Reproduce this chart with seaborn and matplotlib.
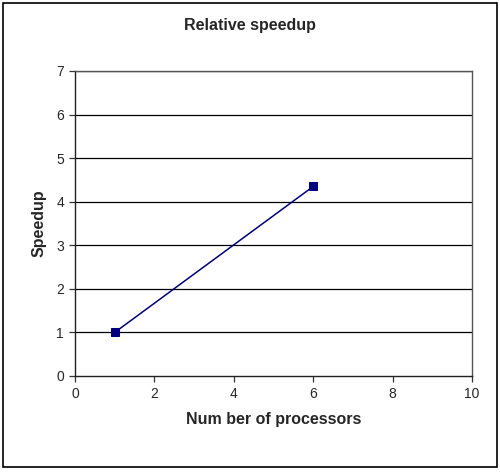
import matplotlib
matplotlib.use("Agg")
import matplotlib.pyplot as plt
import seaborn as sns
import pandas as pd
from matplotlib.patches import Rectangle

processors = [1, 6]
speedup = [1.0, 4.35]
x_ticks = [0, 2, 4, 6, 8, 10]
y_ticks = [0, 1, 2, 3, 4, 5, 6, 7]

sns.set_style("white")
plt.rcParams["font.family"] = ["Liberation Sans", "DejaVu Sans"]

df = pd.DataFrame({"Number of processors": processors, "Speedup": speedup})

fig = plt.figure(figsize=(5.0, 4.72), dpi=100)
ax = fig.add_axes([0.15, 0.2034, 0.794, 0.6462])

for y in y_ticks[1:]:
    ax.axhline(y, color="#000000", lw=0.9, zorder=1)

sns.lineplot(data=df, x="Number of processors", y="Speedup", ax=ax,
             color="#000080", lw=1.1, marker="s", markersize=6,
             markeredgecolor="#000080", markerfacecolor="#000080", zorder=3)

ax.set_xlim(0, 10)
ax.set_ylim(0, 7)
ax.set_xticks(x_ticks)
ax.set_yticks(y_ticks)
ax.tick_params(axis="both", direction="out", length=4, width=0.9,
               color="#333333", labelsize=10, pad=4, bottom=True, left=True)
for side in ["top", "right", "left", "bottom"]:
    ax.spines[side].set_visible(True)
    ax.spines[side].set_color("#555555")
    ax.spines[side].set_linewidth(1.0)
ax.spines["left"].set_color("#222222")
ax.spines["bottom"].set_color("#222222")

ax.set_xlabel("Num ber of processors", fontsize=11.5, fontweight="bold", labelpad=8)
ax.set_ylabel("Speedup", fontsize=11.5, fontweight="bold", labelpad=7)
fig.text(0.5, 0.946, "Relative speedup", ha="center", va="center",
         fontsize=11.5, fontweight="bold")

fig.patches.append(Rectangle((0.006, 0.01), 0.988, 0.983, transform=fig.transFigure,
                             fill=False, edgecolor="#000000", lw=1.2))

fig.savefig("out.png", dpi=100)
